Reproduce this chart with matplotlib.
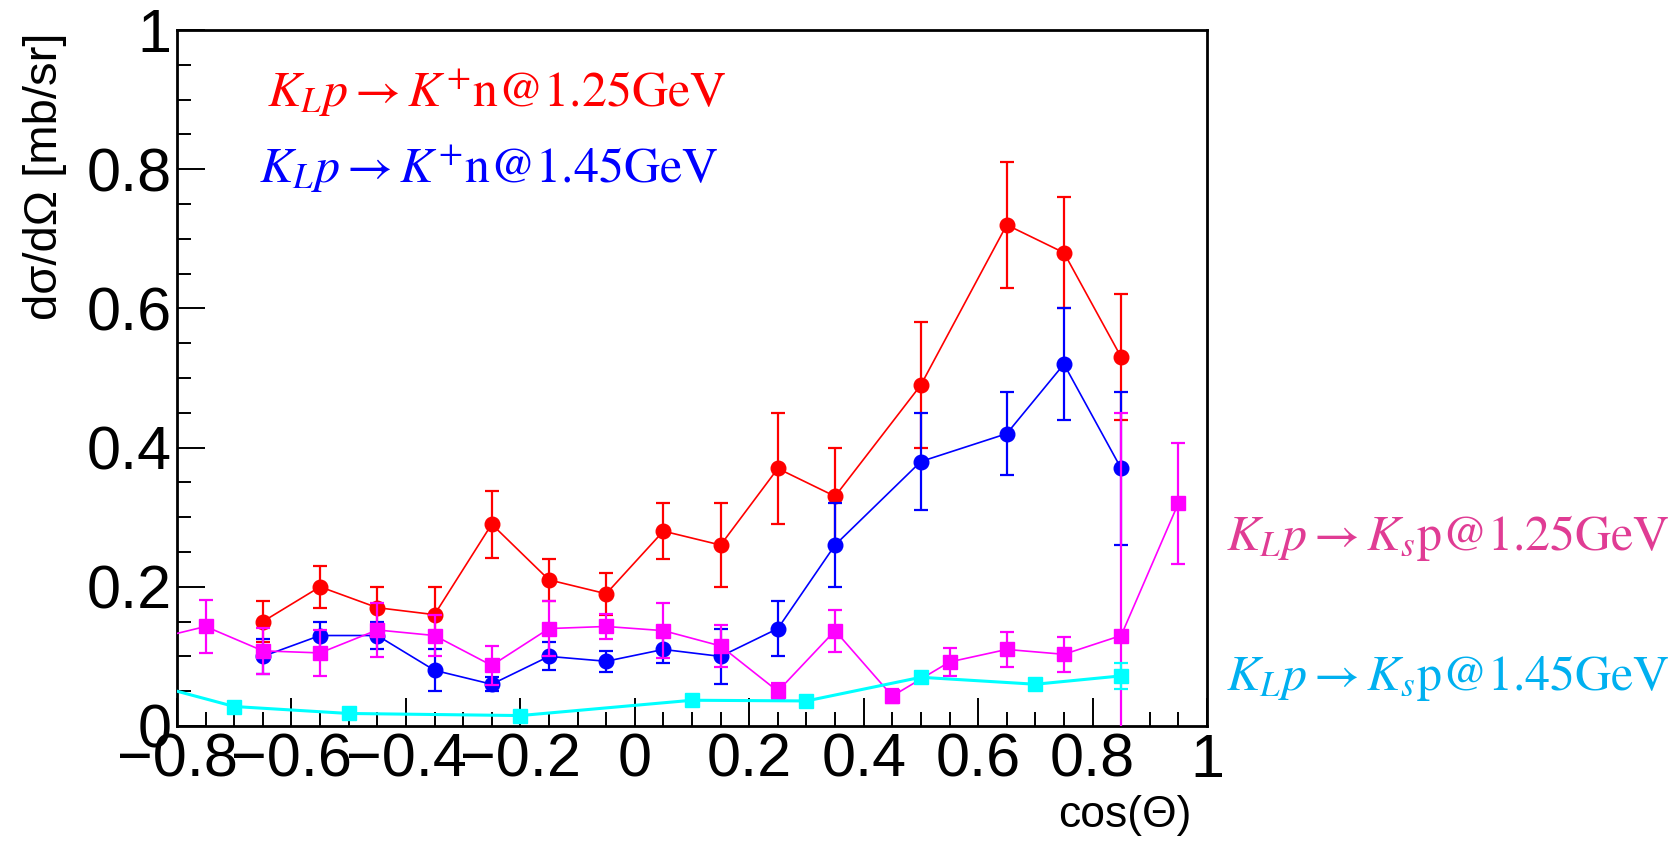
import matplotlib
matplotlib.use("Agg")
import matplotlib.pyplot as plt
from matplotlib.ticker import MultipleLocator

plt.rcParams["font.family"] = ["Liberation Sans", "DejaVu Sans"]
plt.rcParams["mathtext.fontset"] = "stix"

# K_L p -> K+ n @ 1.25 GeV
red_x = [-0.65, -0.55, -0.45, -0.35, -0.25, -0.15, -0.05, 0.05, 0.15, 0.25, 0.35, 0.5, 0.65, 0.75, 0.85]
red_y = [0.15, 0.20, 0.17, 0.16, 0.29, 0.21, 0.19, 0.28, 0.26, 0.37, 0.33, 0.49, 0.72, 0.68, 0.53]
red_err = [0.03, 0.03, 0.03, 0.04, 0.048, 0.03, 0.03, 0.04, 0.06, 0.08, 0.07, 0.09, 0.09, 0.08, 0.09]

# K_L p -> K+ n @ 1.45 GeV
blue_x = [-0.65, -0.55, -0.45, -0.35, -0.25, -0.15, -0.05, 0.05, 0.15, 0.25, 0.35, 0.5, 0.65, 0.75, 0.85]
blue_y = [0.10, 0.13, 0.13, 0.08, 0.06, 0.10, 0.093, 0.11, 0.10, 0.14, 0.26, 0.38, 0.42, 0.52, 0.37]
blue_err = [0.025, 0.02, 0.02, 0.03, 0.01, 0.02, 0.015, 0.02, 0.04, 0.04, 0.06, 0.07, 0.06, 0.08, 0.11]

# K_L p -> Ks p @ 1.25 GeV (first point lies left of the visible range)
mag_x = [-0.85, -0.75, -0.65, -0.55, -0.45, -0.35, -0.25, -0.15, -0.05, 0.05, 0.15, 0.25, 0.35, 0.45, 0.55, 0.65, 0.75, 0.85, 0.95]
mag_y = [0.123, 0.143, 0.108, 0.105, 0.138, 0.13, 0.087, 0.14, 0.143, 0.137, 0.115, 0.05, 0.137, 0.043, 0.092, 0.11, 0.103, 0.13, 0.32]
mag_err = [0.03, 0.038, 0.033, 0.033, 0.039, 0.03, 0.028, 0.04, 0.018, 0.04, 0.03, 0.012, 0.03, 0.01, 0.02, 0.025, 0.025, 0.32, 0.087]

# K_L p -> Ks p @ 1.45 GeV (first point lies left of the visible range)
cyan_x = [-0.9, -0.7, -0.5, -0.2, 0.1, 0.3, 0.5, 0.7, 0.85]
cyan_y = [0.072, 0.028, 0.018, 0.015, 0.037, 0.036, 0.07, 0.06, 0.072]
cyan_err = [0.005, 0.004, 0.004, 0.004, 0.005, 0.005, 0.006, 0.006, 0.019]

x_ticks = [-0.8, -0.6, -0.4, -0.2, 0, 0.2, 0.4, 0.6, 0.8, 1]
x_ticklabels = ["\u22120.8", "\u22120.6", "\u22120.4", "\u22120.2", "0", "0.2", "0.4", "0.6", "0.8", "1"]
y_ticks = [0, 0.2, 0.4, 0.6, 0.8, 1]
y_ticklabels = ["0", "0.2", "0.4", "0.6", "0.8", "1"]

W, H = 1672, 850
fig = plt.figure(figsize=(W / 100, H / 100), dpi=100)
fig.patch.set_facecolor("white")
ax = fig.add_axes([177 / W, 1 - 726 / H, (1207 - 177) / W, (726 - 30) / H])

common = dict(capsize=5, elinewidth=1.6, capthick=1.6, clip_on=True)
ax.errorbar(red_x, red_y, yerr=red_err, fmt="-o", color="#ff0000", lw=1.2, ms=10.5, zorder=2, **common)
ax.errorbar(blue_x, blue_y, yerr=blue_err, fmt="-o", color="#0000ff", lw=1.2, ms=10.5, zorder=3, **common)
ax.errorbar(mag_x, mag_y, yerr=mag_err, fmt="-s", color="#ff00ff", lw=1.2, ms=10.5, zorder=4, **common)
ax.errorbar(cyan_x, cyan_y, yerr=cyan_err, fmt="-s", color="#00ffff", lw=2.2, ms=9.5, zorder=5, **common)

ax.set_xlim(-0.8, 1.0)
ax.set_ylim(0, 1.0)
ax.set_xticks(x_ticks)
ax.set_xticklabels(x_ticklabels)
ax.set_yticks(y_ticks)
ax.set_yticklabels(y_ticklabels)
ax.xaxis.set_minor_locator(MultipleLocator(0.05))
ax.yaxis.set_minor_locator(MultipleLocator(0.05))
ax.tick_params(which="both", direction="in", top=False, right=False, width=1.4, colors="black")
ax.tick_params(which="major", length=20, labelsize=44)
ax.tick_params(which="minor", length=10)
ax.tick_params(axis="y", pad=4)
ax.tick_params(axis="x", pad=5)
for sp in ax.spines.values():
    sp.set_linewidth(2)

fig.text(45 / W, 1 - 32 / H, "d\u03c3/d\u03a9 [mb/sr]", rotation=90, ha="center", va="top", fontsize=34)
fig.text(1192 / W, 1 - 816 / H, "cos(\u0398)", ha="right", va="center", fontsize=32)

fs = 36
fig.text(267 / W, 1 - 107 / H, r"$K_{L}p \rightarrow K^{+}\mathrm{n@1.25GeV}$", color="#ff0000", fontsize=fs, va="baseline")
fig.text(259 / W, 1 - 183 / H, r"$K_{L}p \rightarrow K^{+}\mathrm{n@1.45GeV}$", color="#0000ff", fontsize=fs, va="baseline")
fig.text(1226 / W, 1 - 550 / H, r"$K_{L}p \rightarrow K_{s}\mathrm{p@1.25GeV}$", color="#e03c94", fontsize=fs, va="baseline")
fig.text(1226 / W, 1 - 690 / H, r"$K_{L}p \rightarrow K_{s}\mathrm{p@1.45GeV}$", color="#00b0f0", fontsize=fs, va="baseline")

fig.savefig("out.png", dpi=100, facecolor="white")
